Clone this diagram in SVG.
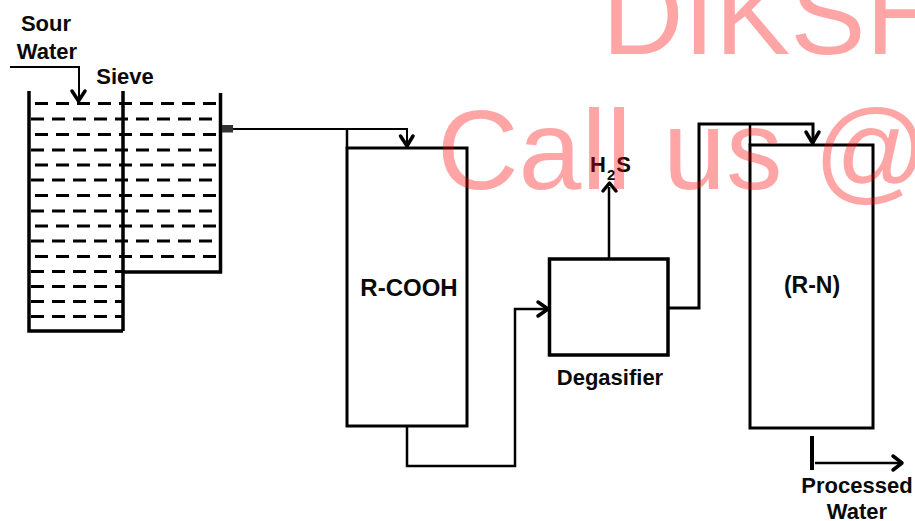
<svg xmlns="http://www.w3.org/2000/svg" width="915" height="521" viewBox="0 0 915 521">
<defs><style>
.t{font-family:"Liberation Sans",Arial,sans-serif;font-weight:700;fill:#0a0a0a;font-size:22px;text-anchor:middle}
.b{fill:none;stroke:#000;stroke-width:3}
.c{fill:none;stroke:#000;stroke-width:2.5}
.th{stroke-width:3.500}
.n{stroke-width:2}
.h{fill:none;stroke:#000;stroke-width:3.500;stroke-linecap:round;stroke-linejoin:round}
.d{stroke:#000;stroke-width:3;stroke-dasharray:13 8;fill:none}
.w{font-family:"Liberation Sans",Arial,sans-serif;font-size:113px;fill:#ff0000;opacity:.35}
</style></defs>
<rect width="915" height="521" fill="#fff"/>
<g id="tank">
<path class="b th" d="M29 91V331H123M123 91V331M123 272H220.500V93"/>
<g id="dashes">
<path class="d" d="M35 103.500H220M31 119H215M35 134.500H220M31 150H215M35 165H220M31 180H215M35 195.500H220M31 211H215M35 226H220M31 241H215M35 256.500H220M31 271.500H123M31 286.500H123M31 301.500H123M31 316.500H123"/>
</g>
<rect x="222" y="125" width="11" height="7.500" fill="#333"/>
</g>
<g id="rcooh"><rect class="b" x="347" y="148" width="120" height="278"/>
<text class="t" x="409" y="296" style="font-size:24px">R-COOH</text></g>
<g id="degasifier"><rect class="b th" x="549.500" y="259" width="118.500" height="96"/>
<text class="t" x="610" y="385">Degasifier</text></g>
<g id="rn"><rect class="b" x="750" y="145" width="123" height="283"/>
<text class="t" x="812" y="293" style="font-size:23px">(R-N)</text></g>
<g id="connectors">
<path class="c n" d="M10 67H79V101"/><path class="h" d="M72 91L78.500 101L85 91"/>
<path class="c n" d="M233 129H407V147"/><path class="c" d="M347 129V148"/><path class="h" d="M400.500 136L407 146L413 136"/>
<path class="c" d="M407 426V466H515V309H547"/><path class="h" d="M538 302L548 309L538 316"/>
<path class="c" d="M609 259V187"/><path class="h" d="M603 191L609.500 183L616 191"/>
<path class="b" d="M668 308H699V124H813V144"/><path class="c" d="M750 124V145"/><path class="h" d="M806 132L812.500 143L819 132"/>
<path class="b" style="stroke-width:4" d="M812 436V470"/>
<path class="c" d="M815 463H900"/><path class="h" d="M893 456L902 463L893 470"/>
</g>
<g id="labels">
<text class="t" x="46" y="31">Sour</text>
<text class="t" x="47" y="59">Water</text>
<text class="t" x="125" y="84">Sieve</text>
<text class="t" x="611" y="172" style="font-size:22px;letter-spacing:1px">H<tspan dy="8" style="font-size:15px">2</tspan><tspan dy="-8">S</tspan></text>
<text class="t" x="857" y="493">Processed</text>
<text class="t" x="857" y="519">Water</text>
</g>
<g id="watermark">
<text class="w" x="602" y="54">DIKSH</text>
<text class="w" x="437" y="189">Call us @</text>
</g>
</svg>
